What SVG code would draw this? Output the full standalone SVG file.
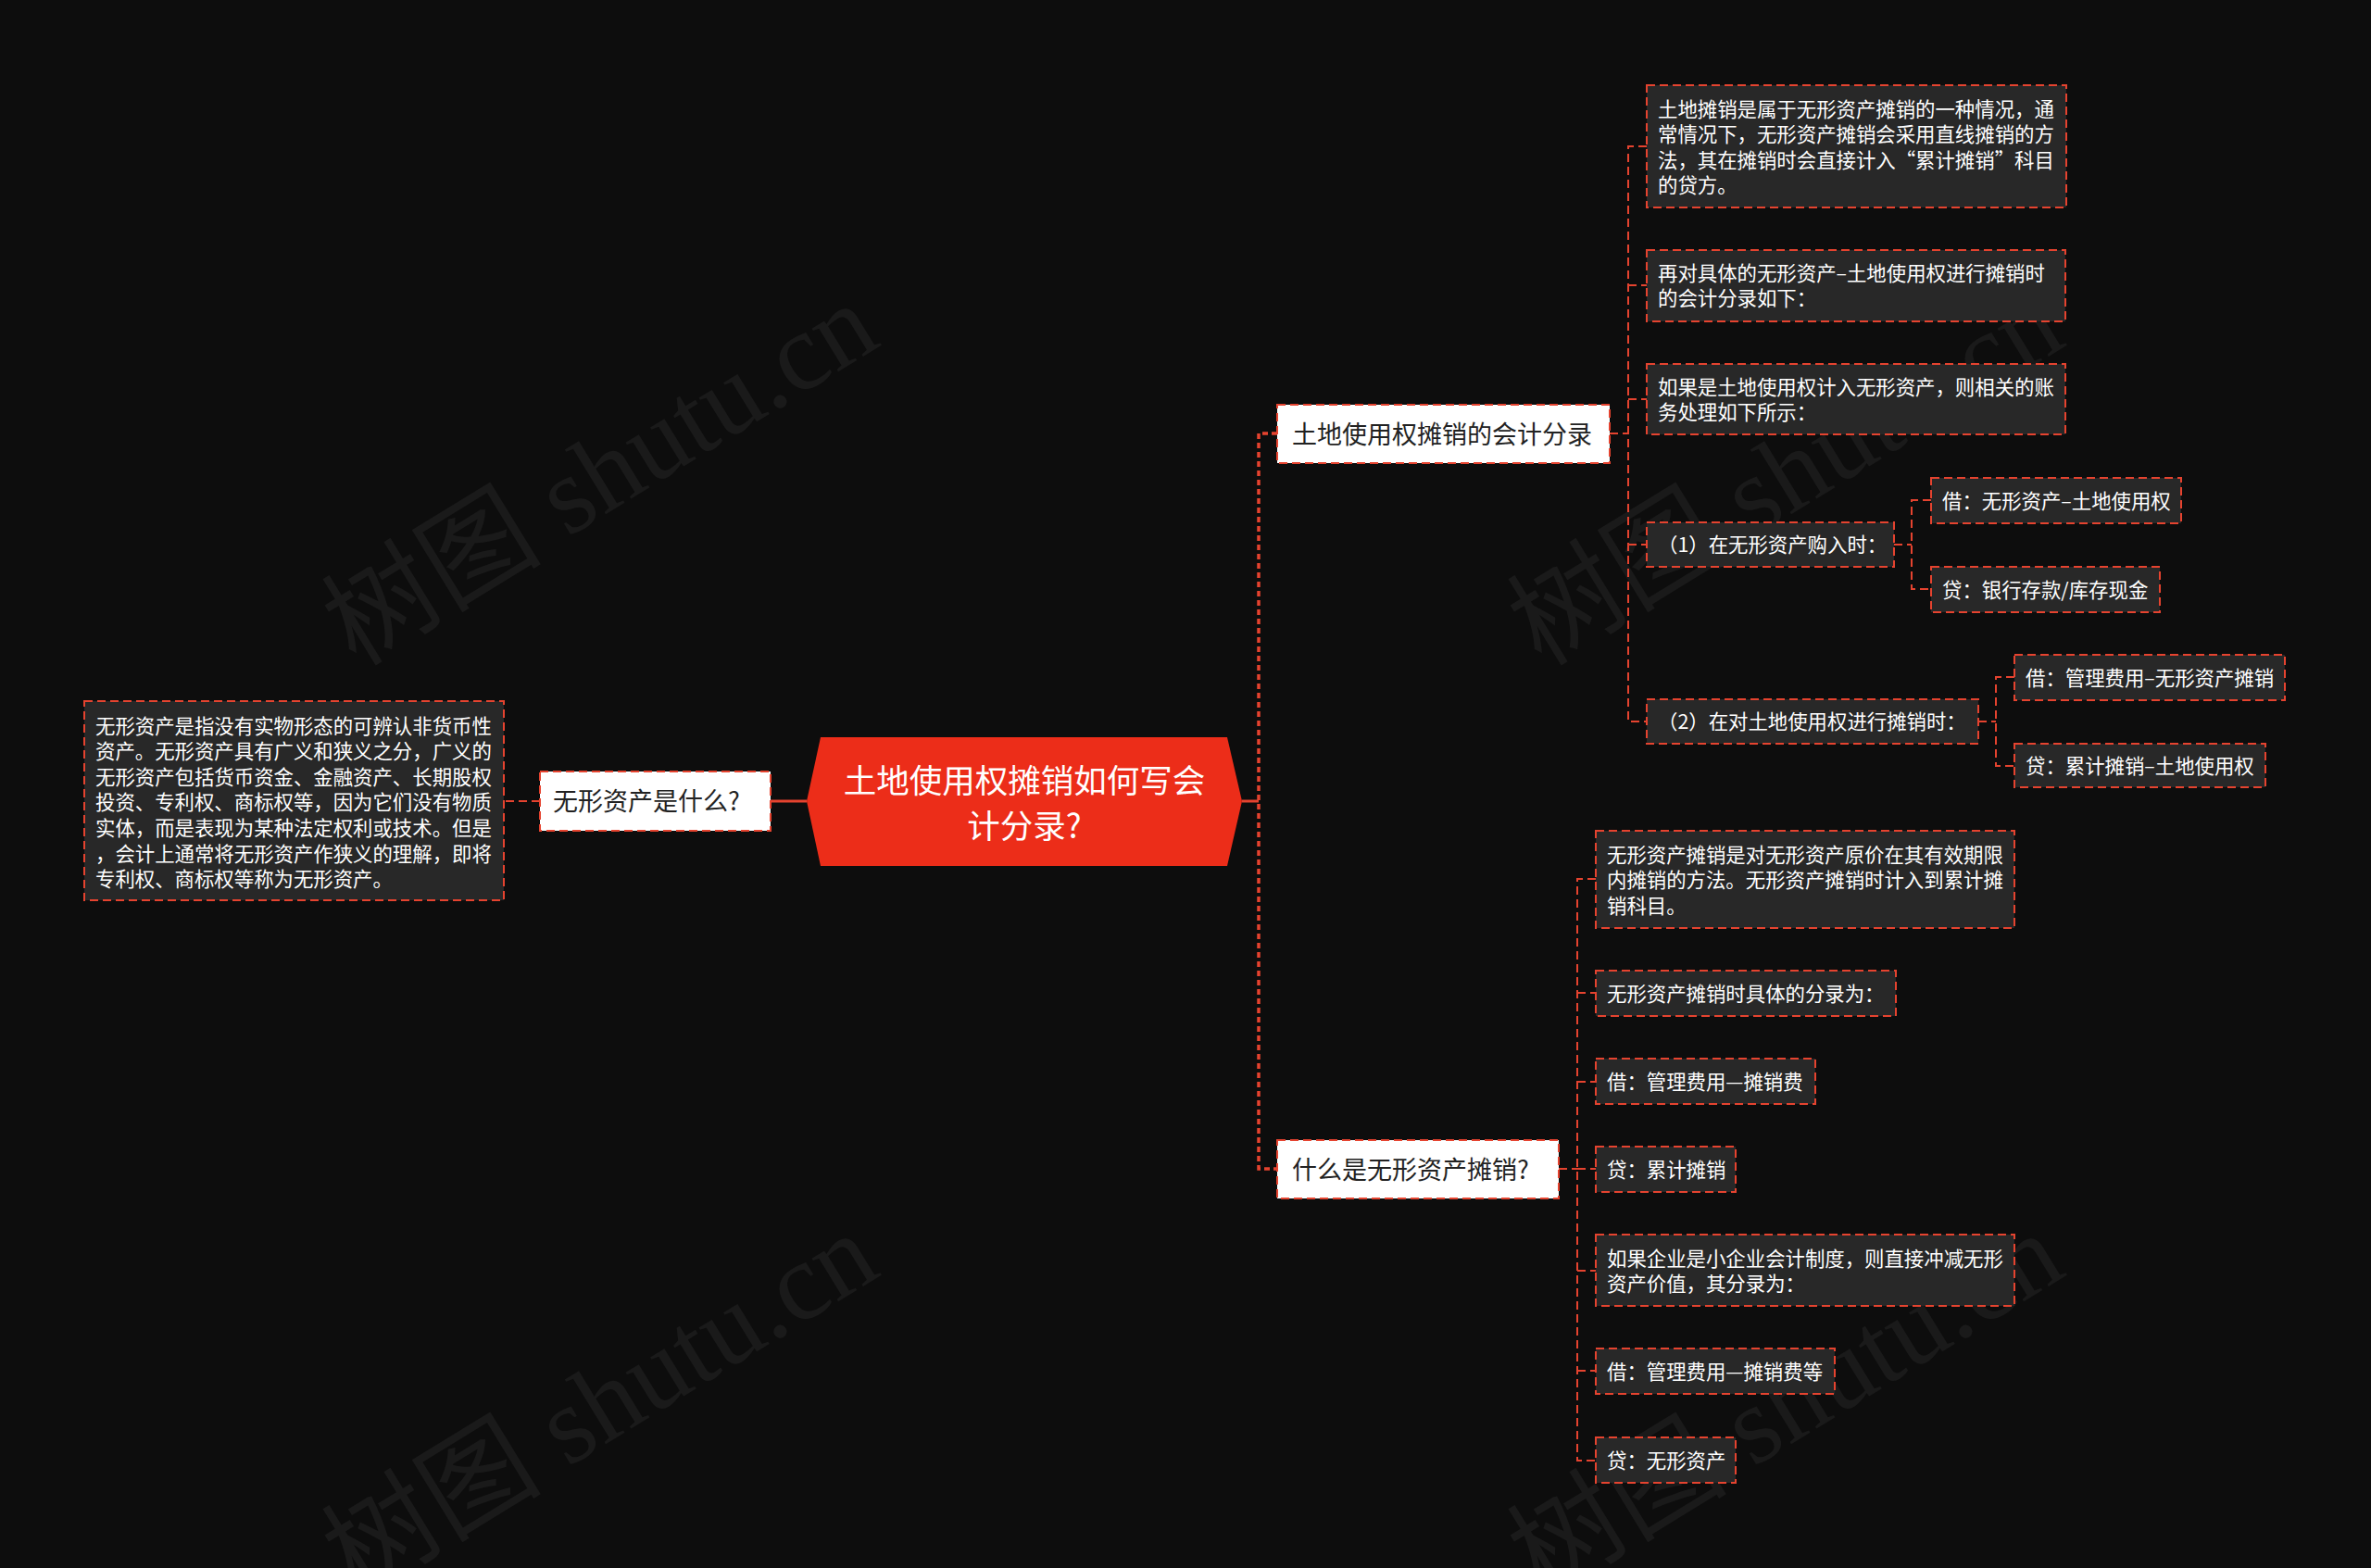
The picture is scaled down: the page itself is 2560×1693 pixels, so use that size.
<svg xmlns="http://www.w3.org/2000/svg" width="2560" height="1693" viewBox="0 0 2560 1693">
<defs>
<style>
.bg{fill:#0d0d0d}
.wm{font-family:"Liberation Serif","Noto Sans CJK SC",serif;font-size:119px;fill:#ffffff;fill-opacity:0.055}
.box{fill:#282828;stroke:#e5432f;stroke-width:2;stroke-dasharray:9 5}
.wbox{fill:#ffffff;stroke:#e5432f;stroke-width:2;stroke-dasharray:9 5}
.t{font-family:"Noto Sans CJK SC","Noto Sans",sans-serif;font-size:21.4px;fill:#ffffff;dominant-baseline:central}
.wt{font-family:"Noto Sans CJK SC","Noto Sans",sans-serif;font-size:27px;fill:#222222;dominant-baseline:central}
.ct{font-family:"Noto Sans CJK SC","Noto Sans",sans-serif;font-size:35.5px;fill:#ffffff;dominant-baseline:central;text-anchor:middle}
.c{fill:none;stroke:#e5432f;stroke-width:2;stroke-dasharray:9 5}
.cm{fill:none;stroke:#e5432f;stroke-width:3.5;stroke-dasharray:6 4}
.cs{fill:none;stroke:#e5432f;stroke-width:3}
</style>
</defs>
<rect class="bg" x="0" y="0" width="2560" height="1693"/>
<g id="watermarks">
<text class="wm" x="648" y="512" text-anchor="middle" dominant-baseline="central" transform="rotate(-31.5 648 512)">树图 shutu.cn</text>
<text class="wm" x="1928" y="512" text-anchor="middle" dominant-baseline="central" transform="rotate(-31.5 1928 512)">树图 shutu.cn</text>
<text class="wm" x="648" y="1516" text-anchor="middle" dominant-baseline="central" transform="rotate(-31.5 648 1516)">树图 shutu.cn</text>
<text class="wm" x="1928" y="1516" text-anchor="middle" dominant-baseline="central" transform="rotate(-31.5 1928 1516)">树图 shutu.cn</text>
</g>
<g id="connectors">
<path class="cs" d="M871 865 H832"/>
<path class="c" d="M583 865 H544"/>
<path class="cs" d="M1341 865 H1359"/>
<path class="cm" d="M1379 468 H1359 V1262 H1379"/>
<path class="c" d="M1738 468 H1758"/>
<path class="c" d="M1778 158 H1758 V779 H1778"/>
<path class="c" d="M1758 308 H1778"/>
<path class="c" d="M1758 431 H1778"/>
<path class="c" d="M1758 588 H1778"/>
<path class="c" d="M2045 588 H2064"/>
<path class="c" d="M2085 540 H2064 V636 H2085"/>
<path class="c" d="M2136 779 H2155"/>
<path class="c" d="M2175 731 H2155 V827 H2175"/>
<path class="c" d="M1683 1262 H1703"/>
<path class="c" d="M1723 949 H1703 V1577 H1723"/>
<path class="c" d="M1703 1072 H1723"/>
<path class="c" d="M1703 1168 H1723"/>
<path class="c" d="M1703 1262 H1723"/>
<path class="c" d="M1703 1372 H1723"/>
<path class="c" d="M1703 1480 H1723"/>
</g>
<g id="center">
<polygon points="871,865 886,796 1325,796 1341,865 1325,935 886,935" fill="#ec2d19"/>
<text class="ct" x="1106" y="840">土地使用权摊销如何写会</text>
<text class="ct" x="1106" y="889">计分录?</text>
</g>
<g id="n-what">
<rect class="wbox" x="583" y="833" width="249" height="64"/>
<text class="wt" x="597" y="863.5">无形资产是什么?</text>
</g>
<g id="n-what-desc">
<rect class="box" x="91" y="757" width="453" height="215"/>
<text class="t" x="103" y="782">无形资产是指没有实物形态的可辨认非货币性</text>
<text class="t" x="103" y="809.6">资产。无形资产具有广义和狭义之分，广义的</text>
<text class="t" x="103" y="837.2">无形资产包括货币资金、金融资产、长期股权</text>
<text class="t" x="103" y="864.8">投资、专利权、商标权等，因为它们没有物质</text>
<text class="t" x="103" y="892.4">实体，而是表现为某种法定权利或技术。但是</text>
<text class="t" x="103" y="920">，会计上通常将无形资产作狭义的理解，即将</text>
<text class="t" x="103" y="947.6">专利权、商标权等称为无形资产。</text>
</g>
<g id="n-branch1">
<rect class="wbox" x="1379" y="437" width="359" height="63"/>
<text class="wt" x="1395" y="467">土地使用权摊销的会计分录</text>
</g>
<g id="n-a">
<rect class="box" x="1778" y="92" width="453" height="132"/>
<text class="t" x="1790" y="116">土地摊销是属于无形资产摊销的一种情况，通</text>
<text class="t" x="1790" y="143.5">常情况下，无形资产摊销会采用直线摊销的方</text>
<text class="t" x="1790" y="171">法，其在摊销时会直接计入“累计摊销”科目</text>
<text class="t" x="1790" y="198.5">的贷方。</text>
</g>
<g id="n-b">
<rect class="box" x="1778" y="270" width="452" height="77"/>
<text class="t" x="1790" y="293">再对具体的无形资产–土地使用权进行摊销时</text>
<text class="t" x="1790" y="320.5">的会计分录如下：</text>
</g>
<g id="n-c">
<rect class="box" x="1778" y="393" width="452" height="76"/>
<text class="t" x="1790" y="416">如果是土地使用权计入无形资产，则相关的账</text>
<text class="t" x="1790" y="443.5">务处理如下所示：</text>
</g>
<g id="n-d">
<rect class="box" x="1778" y="564" width="267" height="48"/>
<text class="t" x="1790" y="586.5">（1）在无形资产购入时：</text>
</g>
<g id="n-d1">
<rect class="box" x="2085" y="516" width="270" height="49"/>
<text class="t" x="2097" y="539">借：无形资产–土地使用权</text>
</g>
<g id="n-d2">
<rect class="box" x="2085" y="612" width="247" height="49"/>
<text class="t" x="2097" y="635">贷：银行存款/库存现金</text>
</g>
<g id="n-e">
<rect class="box" x="1778" y="755" width="358" height="48"/>
<text class="t" x="1790" y="777.5">（2）在对土地使用权进行摊销时：</text>
</g>
<g id="n-e1">
<rect class="box" x="2175" y="707" width="292" height="49"/>
<text class="t" x="2187" y="730">借：管理费用–无形资产摊销</text>
</g>
<g id="n-e2">
<rect class="box" x="2175" y="803" width="271" height="47"/>
<text class="t" x="2187" y="825">贷：累计摊销–土地使用权</text>
</g>
<g id="n-branch2">
<rect class="wbox" x="1379" y="1231" width="304" height="63"/>
<text class="wt" x="1395" y="1261">什么是无形资产摊销?</text>
</g>
<g id="n-f">
<rect class="box" x="1723" y="897" width="452" height="105"/>
<text class="t" x="1735" y="921">无形资产摊销是对无形资产原价在其有效期限</text>
<text class="t" x="1735" y="948.5">内摊销的方法。无形资产摊销时计入到累计摊</text>
<text class="t" x="1735" y="976">销科目。</text>
</g>
<g id="n-g">
<rect class="box" x="1723" y="1048" width="324" height="49"/>
<text class="t" x="1735" y="1071">无形资产摊销时具体的分录为：</text>
</g>
<g id="n-h">
<rect class="box" x="1723" y="1143" width="237" height="49"/>
<text class="t" x="1735" y="1166">借：管理费用—摊销费</text>
</g>
<g id="n-i">
<rect class="box" x="1723" y="1238" width="151" height="49"/>
<text class="t" x="1735" y="1261">贷：累计摊销</text>
</g>
<g id="n-j">
<rect class="box" x="1723" y="1333" width="452" height="77"/>
<text class="t" x="1735" y="1357">如果企业是小企业会计制度，则直接冲减无形</text>
<text class="t" x="1735" y="1384.5">资产价值，其分录为：</text>
</g>
<g id="n-k">
<rect class="box" x="1723" y="1456" width="258" height="49"/>
<text class="t" x="1735" y="1479">借：管理费用—摊销费等</text>
</g>
<g id="n-l">
<rect class="box" x="1723" y="1552" width="151" height="49"/>
<text class="t" x="1735" y="1575">贷：无形资产</text>
</g>
</svg>
